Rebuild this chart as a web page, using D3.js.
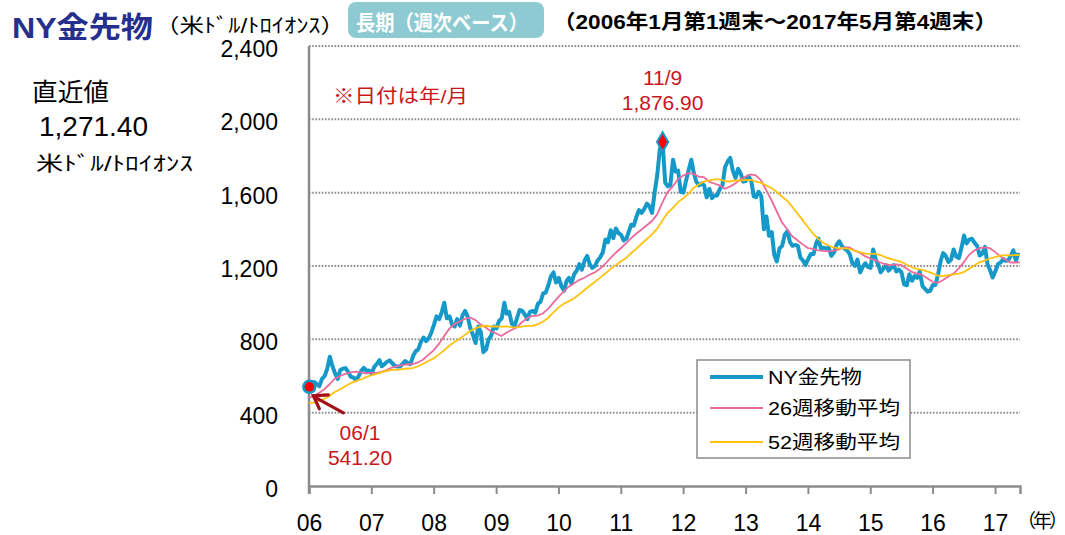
<!DOCTYPE html>
<html lang="ja">
<head>
<meta charset="UTF-8">
<script src="https://d3js.org/d3.v7.min.js"></script>
<style>
  body { margin: 0; background: #fff; }
  svg { display: block; font-family: "Liberation Sans", Arial, "Noto Sans CJK JP", sans-serif; }
  .grid line { stroke: #8c8c8c; stroke-width: 2; stroke-dasharray: 1.6 1.6; }
  .red { fill: #c8161d; }
</style>
</head>
<body>
<svg id="chart" width="1065" height="535"></svg>
<script>

// NY gold futures, two readings a month (early / mid month), USD per troy ounce
const gold2006 = [541.2, 568, 566, 554, 545, 584, 600, 640, 705, 655, 613, 584, 633, 640, 643, 623, 595, 592, 578, 598, 628, 645, 628, 630]
const gold2007 = [612, 650, 667, 686, 653, 663, 678, 685, 670, 655, 652, 652, 666, 681, 670, 665, 710, 735, 745, 785, 810, 790, 806, 836]
const gold2008 = [880, 925, 910, 950, 1000, 915, 925, 880, 870, 910, 875, 930, 955, 925, 860, 825, 780, 870, 840, 730, 745, 800, 820, 870]
const gold2009 = [860, 900, 915, 1000, 940, 950, 885, 870, 915, 960, 955, 935, 910, 950, 955, 945, 995, 1005, 1050, 1055, 1095, 1145, 1165, 1110]
const gold2010 = [1135, 1090, 1065, 1120, 1135, 1105, 1155, 1175, 1210, 1180, 1230, 1255, 1210, 1190, 1200, 1230, 1248, 1275, 1345, 1330, 1395, 1352, 1405, 1380]
const gold2011 = [1370, 1340, 1350, 1390, 1425, 1420, 1470, 1505, 1490, 1510, 1540, 1525, 1490, 1600, 1700, 1840, 1876.9, 1655, 1635, 1640, 1780, 1715, 1720, 1605]
const gold2012 = [1600, 1665, 1725, 1780, 1710, 1660, 1640, 1650, 1640, 1575, 1620, 1570, 1585, 1585, 1620, 1640, 1740, 1770, 1790, 1720, 1680, 1730, 1705, 1660]
const gold2013 = [1665, 1690, 1665, 1580, 1575, 1605, 1580, 1400, 1470, 1365, 1385, 1260, 1225, 1295, 1310, 1370, 1390, 1330, 1310, 1315, 1310, 1245, 1230, 1205]
const gold2014 = [1240, 1265, 1265, 1325, 1350, 1295, 1300, 1295, 1300, 1255, 1275, 1315, 1335, 1310, 1295, 1285, 1265, 1215, 1200, 1235, 1165, 1195, 1215, 1195]
const gold2015 = [1190, 1290, 1235, 1205, 1165, 1185, 1205, 1175, 1190, 1205, 1170, 1180, 1165, 1100, 1095, 1155, 1120, 1145, 1135, 1170, 1090, 1075, 1060, 1065]
const gold2016 = [1097, 1097, 1158, 1230, 1270, 1255, 1222, 1234, 1290, 1252, 1243, 1298, 1366, 1323, 1344, 1349, 1326, 1310, 1257, 1267, 1304, 1208, 1177, 1137]
const gold2017 = [1173, 1210, 1220, 1237, 1228, 1230, 1255, 1285, 1228, 1271.4]

// 26-week and 52-week moving averages: start of 2006, then each month end to May 2017
const ma26 = [480,
  492, 508, 528, 555, 585, 600, 612, 620, 624, 620, 615, 617,
  617, 623, 632, 646, 654, 659, 664, 665, 674, 690, 715, 740,
  775, 815, 857, 883, 897, 911, 919, 906, 882, 865, 844, 832,
  818, 836, 851, 865, 893, 915, 928, 929, 941, 966, 999, 1031,
  1061, 1086, 1105, 1123, 1136, 1152, 1165, 1185, 1211, 1243, 1271, 1297,
  1324, 1351, 1376, 1398, 1421, 1444, 1480, 1544, 1602, 1634, 1672, 1693,
  1707, 1704, 1688, 1685, 1660, 1650, 1640, 1621, 1633, 1650, 1672, 1688,
  1700, 1695, 1668, 1615, 1560, 1500, 1440, 1400, 1362, 1340, 1318, 1298,
  1293, 1285, 1283, 1280, 1282, 1291, 1302, 1302, 1285, 1272, 1254, 1241,
  1231, 1219, 1209, 1205, 1209, 1206, 1186, 1168, 1159, 1152, 1133, 1114,
  1108, 1122, 1142, 1157, 1186, 1220, 1260, 1284, 1297, 1301, 1297, 1277,
  1252, 1235, 1219, 1219, 1220]

const ma52 = [452,
  455, 466, 476, 491, 513, 526, 544, 560, 572, 581, 594, 604,
  611, 620, 628, 634, 633, 638, 641, 643, 653, 667, 682, 696,
  718, 739, 765, 785, 803, 823, 845, 860, 870, 874, 870, 871,
  869, 871, 867, 865, 869, 873, 873, 882, 896, 916, 946, 973,
  994, 1007, 1023, 1044, 1068, 1091, 1113, 1135, 1158, 1183, 1203, 1225,
  1244, 1268, 1293, 1320, 1346, 1371, 1402, 1447, 1489, 1516, 1547, 1569,
  1594, 1624, 1645, 1660, 1666, 1672, 1673, 1663, 1661, 1667, 1666, 1669,
  1670, 1661, 1654, 1640, 1626, 1605, 1579, 1556, 1523, 1487, 1450, 1411,
  1376, 1348, 1327, 1312, 1301, 1296, 1298, 1293, 1284, 1276, 1268, 1266,
  1266, 1260, 1247, 1239, 1231, 1223, 1208, 1193, 1184, 1179, 1171, 1160,
  1147, 1145, 1150, 1154, 1159, 1167, 1184, 1203, 1220, 1229, 1241, 1248,
  1256, 1259, 1258, 1260, 1259]

const yTicks = [0, 400, 800, 1200, 1600, 2000, 2400]
const yearLabels = ['06', '07', '08', '09', '10', '11', '12', '13', '14', '15', '16', '17']
const seriesNames = ['NY金先物', '26週移動平均', '52週移動平均']
const seriesColors = ['#1499c9', '#ec6a9d', '#ffc20e']

let margin = {top: 46, right: 45, bottom: 49, left: 309},
    W = 1065,
    H = 535,
    width = W - margin.left - margin.right,
    height = H - margin.top - margin.bottom

const startDate = new Date(2006, 0, 1),
      endDate = new Date(2017, 4, 27)

let x = d3.scaleTime()
    .domain([startDate, endDate])
    .range([0, width])

let y = d3.scaleLinear()
    .domain([0, 2400])
    .range([height, 0])

// build point lists
const goldValues = [].concat(gold2006, gold2007, gold2008, gold2009, gold2010, gold2011,
    gold2012, gold2013, gold2014, gold2015, gold2016, gold2017)
let goldDates = []
d3.timeMonth.range(startDate, new Date(2017, 5, 1)).forEach(m => {
    goldDates.push(new Date(m.getFullYear(), m.getMonth(), 3))
    goldDates.push(new Date(m.getFullYear(), m.getMonth(), 18))
})
const goldData = goldValues.map((v, i) => ({date: goldDates[i], value: v}))

let maDates = d3.timeMonth.range(startDate, new Date(2017, 4, 2)).concat([new Date(2017, 4, 26)])
const ma26Data = ma26.map((v, i) => ({date: maDates[i], value: v}))
const ma52Data = ma52.map((v, i) => ({date: maDates[i], value: v}))

let svg = d3.select('#chart')
let g = svg.append('g')
    .attr('transform', `translate(${margin.left},${margin.top})`)

// dotted gridlines
g.append('g')
    .attr('class', 'grid')
    .selectAll('line')
    .data(yTicks.filter(d => d > 0))
    .join('line')
      .attr('x1', 0)
      .attr('x2', width)
      .attr('y1', d => y(d))
      .attr('y2', d => y(d))

// y labels
g.append('g')
    .selectAll('text')
    .data(yTicks)
    .join('text')
      .attr('x', -31)
      .attr('y', d => y(d) + 3)
      .attr('dy', '0.35em')
      .attr('text-anchor', 'end')
      .style('font-size', '23px')
      .text(d => d3.format(',')(d))

// x axis
let xAxis = d3.axisBottom(x)
    .tickValues(d3.timeYear.range(startDate, endDate))
    .tickSize(8)
    .tickFormat((d, i) => yearLabels[i])

g.append('g')
    .attr('transform', `translate(0,${height})`)
    .call(xAxis)
    .call(a => a.select('.domain').attr('stroke', '#8c8c8c').attr('stroke-width', 2.5))
    .call(a => a.selectAll('.tick line').attr('stroke', '#8c8c8c').attr('stroke-width', 2))
    .call(a => a.selectAll('.tick text')
        .attr('y', 29)
        .attr('fill', '#000')
        .style('font-size', '23px')
        .style('font-family', '"Liberation Sans", Arial, sans-serif'))

g.append('line')
    .attr('x1', 0).attr('x2', 0)
    .attr('y1', 0).attr('y2', height + 8)
    .attr('stroke', '#8c8c8c')
    .attr('stroke-width', 2.5)

// unit label; tightened so the full-width parens hug the character
svg.append('text')
    .attr('x', 1017)
    .attr('y', 528)
    .style('font-size', '19px')
    .style('letter-spacing', '-3px')
    .text('（年）')

// lines
let line = d3.line()
    .x(d => x(d.date))
    .y(d => y(d.value))

g.append('path')
    .datum(goldData)
    .attr('fill', 'none')
    .attr('stroke', seriesColors[0])
    .attr('stroke-width', 4)
    .attr('stroke-linejoin', 'round')
    .attr('d', line)

g.append('path')
    .datum(ma26Data)
    .attr('fill', 'none')
    .attr('stroke', seriesColors[1])
    .attr('stroke-width', 1.8)
    .attr('d', line)

g.append('path')
    .datum(ma52Data)
    .attr('fill', 'none')
    .attr('stroke', seriesColors[2])
    .attr('stroke-width', 1.8)
    .attr('d', line)

// markers: first value and peak
let first = goldData[0]
let peak = goldData[d3.maxIndex(goldData, d => d.value)]

g.append('circle')
    .attr('cx', x(first.date))
    .attr('cy', y(first.value))
    .attr('r', 6)
    .attr('fill', '#ff0000')
    .attr('stroke', seriesColors[0])
    .attr('stroke-width', 2.5)

g.append('path')
    .attr('transform', `translate(${x(peak.date)},${y(peak.value)})`)
    .attr('d', d3.symbol(d3.symbolDiamond, 110))
    .attr('fill', '#ff0000')
    .attr('stroke', seriesColors[0])
    .attr('stroke-width', 2)

// arrow to first point
let ax = x(first.date) + 4, ay = y(first.value) + 9
let arrow = g.append('g')
    .attr('stroke', '#a50f15')
    .attr('stroke-width', 3.2)
    .attr('fill', 'none')
    .attr('stroke-linecap', 'round')
arrow.append('line')
    .attr('x1', ax + 30).attr('y1', ay + 17)
    .attr('x2', ax + 1).attr('y2', ay + 1)
arrow.append('path')
    .attr('d', `M${ax + 15},${ay - 1} L${ax},${ay} L${ax + 6},${ay + 13}`)

// annotations
svg.append('text').attr('class', 'red')
    .attr('x', 333).attr('y', 103)
    .attr('textLength', 135).attr('lengthAdjust', 'spacingAndGlyphs')
    .style('font-size', '19px')
    .text('※日付は年/月')

svg.append('text').attr('class', 'red')
    .attr('x', margin.left + x(peak.date)).attr('y', 85)
    .attr('text-anchor', 'middle')
    .style('font-size', '21px')
    .text('11/9')
svg.append('text').attr('class', 'red')
    .attr('x', margin.left + x(peak.date)).attr('y', 110)
    .attr('text-anchor', 'middle')
    .style('font-size', '21px')
    .text(d3.format(',.2f')(peak.value))

svg.append('text').attr('class', 'red')
    .attr('x', 360).attr('y', 440)
    .attr('text-anchor', 'middle')
    .style('font-size', '21px')
    .text('06/1')
svg.append('text').attr('class', 'red')
    .attr('x', 360).attr('y', 465)
    .attr('text-anchor', 'middle')
    .style('font-size', '21px')
    .text(d3.format(',.2f')(first.value))

// header
svg.append('text')
    .attr('x', 12).attr('y', 38)
    .attr('fill', '#262f8c')
    .attr('font-weight', 'bold')
    .attr('textLength', 141).attr('lengthAdjust', 'spacingAndGlyphs')
    .style('font-size', '29px')
    .text('NY金先物')

svg.append('text')
    .attr('x', 155).attr('y', 33)
    .attr('textLength', 190).attr('lengthAdjust', 'spacingAndGlyphs')
    .style('font-size', '20px')
    .text('（米ﾄﾞﾙ/ﾄﾛｲｵﾝｽ）')

svg.append('rect')
    .attr('x', 348).attr('y', 2)
    .attr('width', 196).attr('height', 36)
    .attr('rx', 8)
    .attr('fill', '#8ecad2')

svg.append('text')
    .attr('x', 356).attr('y', 30)
    .attr('fill', '#fff')
    .attr('font-weight', 'bold')
    .attr('textLength', 172).attr('lengthAdjust', 'spacingAndGlyphs')
    .style('font-size', '21px')
    .text('長期（週次ベース）')

svg.append('text')
    .attr('x', 553).attr('y', 29)
    .attr('font-weight', 'bold')
    .attr('textLength', 444).attr('lengthAdjust', 'spacingAndGlyphs')
    .style('font-size', '20px')
    .text('（2006年1月第1週末～2017年5月第4週末）')

// latest value block
const latest = goldValues[goldValues.length - 1]
svg.append('text')
    .attr('x', 32).attr('y', 101)
    .attr('textLength', 77).attr('lengthAdjust', 'spacingAndGlyphs')
    .style('font-size', '25px')
    .text('直近値')
svg.append('text')
    .attr('x', 39).attr('y', 136)
    .style('font-size', '28px')
    .text(d3.format(',.2f')(latest))
svg.append('text')
    .attr('x', 36).attr('y', 171)
    .attr('textLength', 157).attr('lengthAdjust', 'spacingAndGlyphs')
    .style('font-size', '20px')
    .text('米ﾄﾞﾙ/ﾄﾛｲｵﾝｽ')

// legend
let legend = svg.append('g')
    .attr('transform', 'translate(697,360)')
legend.append('rect')
    .attr('width', 213).attr('height', 98)
    .attr('fill', '#fff')
    .attr('stroke', '#8c8c8c')
    .attr('stroke-width', 1.5)
const legendY = [17, 48, 82]
const legendW = [94, 132, 132]
let items = legend.selectAll('.item')
    .data(seriesNames)
    .join('g')
      .attr('class', 'item')
      .attr('transform', (d, i) => `translate(0,${legendY[i]})`)
items.append('line')
    .attr('x1', 13).attr('x2', 66)
    .attr('stroke', (d, i) => seriesColors[i])
    .attr('stroke-width', (d, i) => i == 0 ? 4 : 1.8)
items.append('text')
    .attr('x', 71)
    .attr('dy', '0.36em')
    .attr('textLength', (d, i) => legendW[i]).attr('lengthAdjust', 'spacingAndGlyphs')
    .style('font-size', '19px')
    .text(d => d)

</script>
</body>
</html>
